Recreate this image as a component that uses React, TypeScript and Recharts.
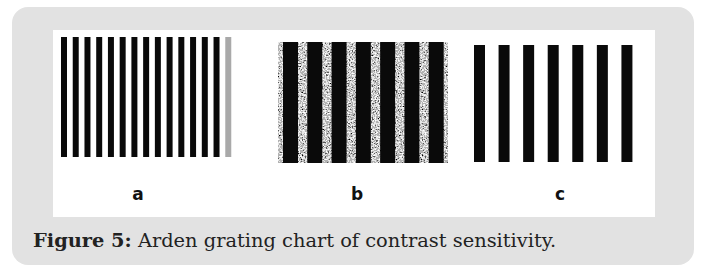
import React from 'react';
import { BarChart, Bar, XAxis, YAxis, Cell, CartesianGrid } from 'recharts';

// stripe contrast, left to right (1 = full black bar)
const gratingA = [1, 1, 1, 1, 1, 1, 1, 1, 1, 1, 1, 1, 1, 1, 0.35];
const gratingB = [1, 1, 1, 1, 1, 1, 1];
const gratingC = [1, 1, 1, 1, 1, 1, 1];
const panelLabels = ['a', 'b', 'c'];

const toRows = (contrast: number[]) =>
  contrast.map((c, i) => ({ stripe: i + 1, contrast: c, level: 1 }));

const LABEL_BASELINE = 200;

interface GratingProps {
  rows: { stripe: number; contrast: number; level: number }[];
  label: string;
  left: number;
  top: number;
  width: number;
  barHeight: number;
  barSize: number;
  labelDx: number;
  speckle?: boolean;
}

const Grating: React.FC<GratingProps> = ({ rows, label, left, top, width, barHeight, barSize, labelDx, speckle }) => {
  const renderLetter = (props: any) => {
    const vb = props.viewBox || {};
    return (
      <text
        x={vb.x + vb.width / 2 + labelDx}
        y={LABEL_BASELINE - top}
        textAnchor="middle"
        fontFamily="'DejaVu Sans', sans-serif"
        fontWeight={700}
        fontSize={17}
        fill="#111"
      >
        {label}
      </text>
    );
  };

  return (
    <div style={{ position: 'absolute', left, top }}>
      <BarChart width={width} height={barHeight + 60} data={rows} margin={{ top: 0, right: 0, bottom: 0, left: 0 }}>
        {speckle && <CartesianGrid horizontal={false} vertical={false} fill="url(#speckle)" stroke="none" />}
        <XAxis dataKey="stripe" tick={false} tickLine={false} axisLine={false} height={60} label={{ content: renderLetter }} />
        <YAxis hide domain={[0, 1]} />
        <Bar dataKey="level" barSize={barSize} fill="#0a0a0a" isAnimationActive={false}>
          {rows.map((r, i) => (
            <Cell key={`s-${i}`} fillOpacity={r.contrast} />
          ))}
        </Bar>
      </BarChart>
    </div>
  );
};

export default function App() {
  return (
    <div style={{ position: 'absolute', left: 0, top: 0, width: 701, height: 269, background: '#fff', overflow: 'hidden' }}>
      <svg width={0} height={0} style={{ position: 'absolute' }}>
        <defs>
          <filter id="grain" x="0" y="0" width="100%" height="100%">
            <feTurbulence type="fractalNoise" baseFrequency="0.7" numOctaves={2} seed={4} />
            <feColorMatrix type="matrix" values="0.33 0.33 0.33 0 0  0.33 0.33 0.33 0 0  0.33 0.33 0.33 0 0  0 0 0 0 1" />
            <feComponentTransfer>
              <feFuncR type="discrete" tableValues="0 0 0 0.1 0.45 0.8 1 1 1 1" />
              <feFuncG type="discrete" tableValues="0 0 0 0.1 0.45 0.8 1 1 1 1" />
              <feFuncB type="discrete" tableValues="0 0 0 0.1 0.45 0.8 1 1 1 1" />
            </feComponentTransfer>
          </filter>
          <pattern id="speckle" patternUnits="userSpaceOnUse" width={120} height={160}>
            <rect width={120} height={160} fill="#fff" filter="url(#grain)" />
          </pattern>
        </defs>
      </svg>

      <div style={{ position: 'absolute', left: 12, top: 7, width: 682, height: 258, borderRadius: 16, background: '#e2e2e2' }} />
      <div style={{ position: 'absolute', left: 53, top: 30, width: 602, height: 187, background: '#fff' }} />

      <Grating rows={toRows(gratingA)} label={panelLabels[0]} left={58} top={37} width={176} barHeight={120} barSize={6} labelDx={-8} />
      <Grating rows={toRows(gratingB)} label={panelLabels[1]} left={278} top={42} width={170} barHeight={121} barSize={15} labelDx={-6} speckle />
      <Grating rows={toRows(gratingC)} label={panelLabels[2]} left={467} top={45} width={172} barHeight={117} barSize={11} labelDx={7} />

      <div
        style={{
          position: 'absolute',
          left: 33,
          top: 229,
          fontFamily: "'DejaVu Serif', serif",
          fontSize: 19.4,
          color: '#222',
          whiteSpace: 'nowrap',
        }}
      >
        <b>Figure 5:</b> Arden grating chart of contrast sensitivity.
      </div>
    </div>
  );
}
